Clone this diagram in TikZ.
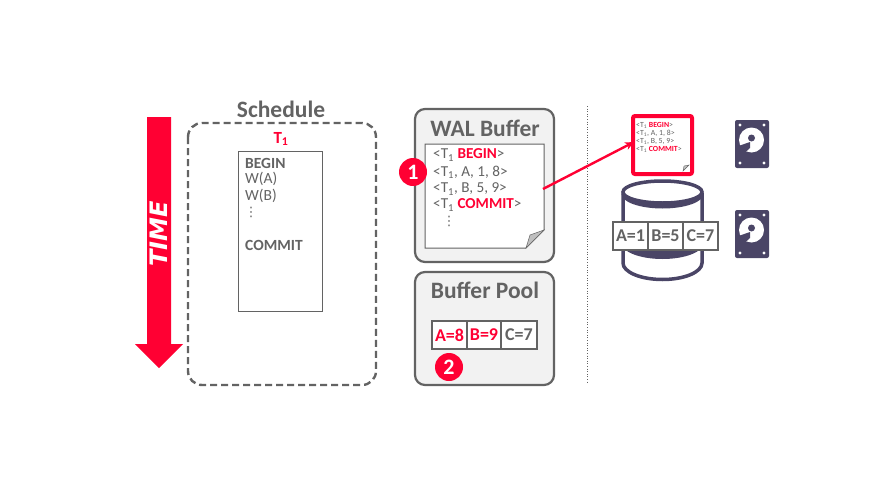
\documentclass[tikz,border=0pt]{standalone}
\usepackage{fontspec}
\setmainfont{Carlito}
\newfontfamily\timefont{DejaVu Sans}
\usetikzlibrary{arrows.meta}
\definecolor{cred}{HTML}{FF0033}
\definecolor{cgray}{HTML}{636363}
\definecolor{cnavy}{HTML}{4A4566}
\definecolor{cpanel}{HTML}{F2F2F2}
\newcommand{\sz}[1]{\fontsize{#1}{#1}\selectfont}
\newcommand{\Tone}{T\textsubscript{1}}
\newcommand{\red}[1]{\textcolor{cred}{\textbf{#1}}}
\tikzset{
  x=1pt,y=-1pt,
  txt/.style={inner sep=0pt,text=cgray,anchor=west,font=\sz{15.5}},
  logline/.style={inner sep=0pt,text=cgray,anchor=west,font=\sz{15.2}},
  tinyline/.style={inner sep=0pt,text=cgray,anchor=west,font=\sz{7.8}},
  dotsline/.style={inner sep=0pt,text=cgray,font=\timefont\sz{13}},
  head/.style={inner sep=0pt,text=cgray,font=\sz{23.5}\bfseries},
  panel/.style={draw=cgray,fill=cpanel,line width=2.2pt,rounded corners=10pt},
  cell/.style={draw=cgray,fill=white,line width=2pt,inner sep=0pt,minimum height=28pt},
  celltxt/.style={inner sep=0pt,font=\sz{18}\bfseries,text=cgray},
  badge/.style={circle,fill=cred,minimum size=28pt,inner sep=0pt,text=white,font=\sz{22}\bfseries},
  cyl/.style={draw=cnavy,line width=3.5pt,fill=white},
}
\newcommand{\hdd}[2]{%
  \begin{scope}[shift={(#1,#2)}]
    \fill[cnavy,rounded corners=2pt] (0,0) rectangle (34,48);
    \fill[white] (16.5,20) circle (12.5);
    \fill[cnavy] (16.5,18) circle (3.5);
    \fill[cnavy] (15,22) -- (3.5,26) -- (9.5,33) -- (15,28) -- cycle;
    \foreach \p/\q in {5/5,29/5,5/43,29/43} \fill[white] (\p,\q) circle (1.7);
  \end{scope}}
\begin{document}
\begin{tikzpicture}
\useasboundingbox (0,0) rectangle (894,490);
% time arrow
\fill[cred] (147,117) -- (171,117) -- (171,344) -- (183,344) -- (159,368) -- (135,344) -- (147,344) -- cycle;
\node[inner sep=0pt,text=white,rotate=90,font=\sz{24}\timefont\bfseries\itshape] (time) at (159,234) {TIME};
% schedule
\draw[draw=cgray,line width=2.4pt,dash pattern=on 7pt off 4pt,rounded corners=14pt] (188,123) rectangle (376,385);
\node[head] (sched) at (281,109) {Schedule};
\node[inner sep=0pt,text=cred,font=\sz{17}\bfseries] (t1) at (281,139) {\Tone};
\draw[draw=cgray,line width=.9pt,fill=white] (238,151) rectangle (322,311);
\node[txt] (s1) at (245,163) {\textbf{BEGIN}};
\node[txt] (s2) at (245,179) {W(A)};
\node[txt] (s3) at (245,196) {W(B)};
\node[dotsline] (s4) at (251,212) {⋮};
\node[txt] (s5) at (245,245) {\textbf{COMMIT}};
% WAL
\draw[panel] (415,109) rectangle (554,262);
\node[head] (wal) at (485,128) {WAL Buffer};
\draw[draw=cgray,line width=1pt,fill=white] (425,144) -- (544,144) -- (544,230) -- (526,248) -- (425,248) -- cycle;
\fill[gray!50,draw=cgray,line width=.5pt] (544,230) -- (526,248) -- (530,235) -- cycle;
\node[logline] (l1) at (433,155) {<\Tone{} \red{BEGIN}>};
\node[logline] (l2) at (433,172) {<\Tone, A, 1, 8>};
\node[logline] (l3) at (433,189) {<\Tone, B, 5, 9>};
\node[logline] (l4) at (433,205) {<\Tone{} \red{COMMIT}>};
\node[dotsline] (l5) at (449,221) {⋮};
\node[badge] (b1) at (413,172) {1};
% buffer pool
\draw[panel] (415,272) rectangle (554,385);
\node[head] (bp) at (485,290) {Buffer Pool};
\node[cell,minimum width=35pt] (a) at (449.5,335) {};
\node[cell,minimum width=34pt] (b) at (484,335) {};
\node[cell,minimum width=36pt] (c) at (519,335) {};
\node[celltxt,text=cred] at (a) {A=8};
\node[celltxt,text=cred] at (b) {B=9};
\node[celltxt] at (c) {C=7};
\node[badge] (b2) at (449,367) {2};
% divider
\coordinate (d1) at (587,106);
\coordinate (d2) at (587,384);
\draw[draw=cgray,line width=1pt,dash pattern=on 1pt off 1.6pt] (d1) -- (d2);
% disk log page
\draw[draw=cred,line width=4pt,fill=white,rounded corners=2pt] (633,116) rectangle (692,174);
\node[tinyline] at (636,125) {<\Tone{} \red{BEGIN}>};
\node[tinyline] at (636,133) {<\Tone, A, 1, 8>};
\node[tinyline] at (636,141) {<\Tone, B, 5, 9>};
\node[tinyline] at (636,149) {<\Tone{} \red{COMMIT}>};
\fill[gray!50,draw=cgray,line width=.4pt] (689,165) -- (683,171) -- (684,166) -- cycle;
% arrow
\coordinate (ws) at (543,189);
\coordinate (wt) at (634,142);
\draw[draw=cred,line width=2.4pt,-{Stealth[length=9pt,width=8pt]}] (ws) -- (wt);
% hdds
\hdd{735}{120}
\hdd{735}{210}
% cylinder
\draw[cyl] (623,193) -- (623,263) arc[start angle=180,end angle=0,x radius=39.5,y radius=16.5] -- (702,193);
\fill[cnavy] (621.5,243) arc[start angle=180,end angle=0,x radius=41,y radius=16] -- cycle;
\fill[cnavy] (621.5,194) arc[start angle=180,end angle=0,x radius=41,y radius=14.5] -- cycle;
\draw[cyl] (662.5,192) ellipse[x radius=39.5,y radius=11];
\node[cell,minimum width=35pt] (da) at (630.5,235.5) {};
\node[cell,minimum width=35pt] (db) at (665.5,235.5) {};
\node[cell,minimum width=35pt] (dc) at (700.5,235.5) {};
\node[celltxt] at (da) {A=1};
\node[celltxt] at (db) {B=5};
\node[celltxt] at (dc) {C=7};
\end{tikzpicture}
\end{document}
